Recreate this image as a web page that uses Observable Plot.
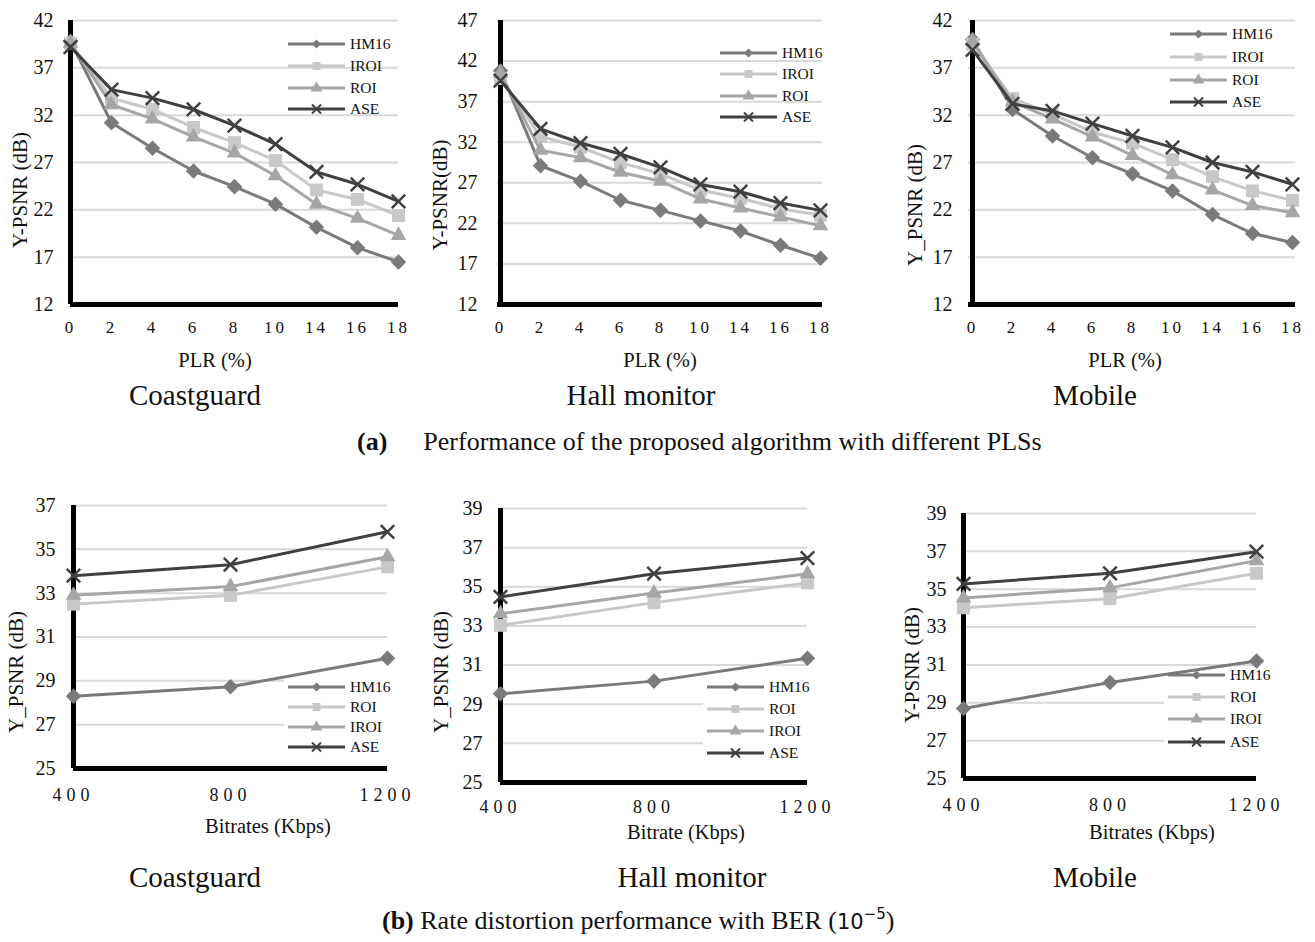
<!DOCTYPE html>
<html><head><meta charset="utf-8">
<script src="https://cdn.jsdelivr.net/npm/d3@7"></script>
<script src="https://cdn.jsdelivr.net/npm/@observablehq/plot@0.6"></script>
<style>
html,body{margin:0;padding:0;background:#fff;}
#fig{position:relative;width:1315px;height:942px;background:#fff;overflow:hidden;font-family:"Liberation Serif","Times New Roman",serif;}
.layer{position:absolute;}
.topx g[aria-label="x-axis tick label"] text{letter-spacing:3px;}
.botx g[aria-label="x-axis tick label"] text{letter-spacing:5px;}
</style>
</head><body><div id="fig"></div>
<script>
// ---------- data ----------
const seqNames = ["Coastguard", "Hall monitor", "Mobile"];
const plrTicks = ["0", "2", "4", "6", "8", "10", "14", "16", "18"];
const bitrateTicks = [400, 800, 1200];
const plrYTicks42 = [12, 17, 22, 27, 32, 37, 42];
const plrYTicks47 = [12, 17, 22, 27, 32, 37, 42, 47];
const rateYTicks37 = [25, 27, 29, 31, 33, 35, 37];
const rateYTicks39 = [25, 27, 29, 31, 33, 35, 37, 39];
const topLegendLabels = ["HM16", "IROI", "ROI", "ASE"];
const botLegendLabels = ["HM16", "ROI", "IROI", "ASE"];

// (a) Y-PSNR vs PLR
const coastPlrHM16 = [39.8, 31.2, 28.5, 26.1, 24.45, 22.6, 20.15, 18.0, 16.5];
const coastPlrIROI = [39.6, 33.8, 32.6, 30.7, 29.1, 27.2, 24.1, 23.1, 21.4];
const coastPlrROI  = [39.6, 33.1, 31.6, 29.7, 28.0, 25.6, 22.6, 21.1, 19.3];
const coastPlrASE  = [39.2, 34.7, 33.8, 32.6, 30.9, 28.95, 26.0, 24.7, 22.9];

const hallPlrHM16 = [40.8, 29.1, 27.2, 24.85, 23.6, 22.3, 21.05, 19.3, 17.7];
const hallPlrIROI = [39.85, 32.7, 31.4, 29.5, 28.1, 26.1, 25.1, 23.8, 23.0];
const hallPlrROI  = [40.5, 31.0, 30.1, 28.3, 27.2, 25.0, 23.9, 22.8, 21.7];
const hallPlrASE  = [39.6, 33.65, 31.9, 30.55, 28.9, 26.8, 25.9, 24.5, 23.6];

const mobPlrHM16 = [40.0, 32.6, 29.8, 27.5, 25.8, 24.0, 21.5, 19.5, 18.55];
const mobPlrIROI = [39.5, 33.75, 32.1, 30.2, 29.05, 27.3, 25.5, 24.0, 23.0];
const mobPlrROI  = [39.8, 33.4, 31.6, 29.7, 27.75, 25.7, 24.1, 22.45, 21.7];
const mobPlrASE  = [38.9, 33.2, 32.45, 31.1, 29.8, 28.6, 27.0, 26.0, 24.7];

// (b) Y-PSNR vs bitrate
const coastRateHM16 = [28.3, 28.73, 30.03];
const coastRateROI  = [32.5, 32.9, 34.2];
const coastRateIROI = [32.9, 33.3, 34.66];
const coastRateASE  = [33.8, 34.3, 35.8];

const hallRateHM16 = [29.53, 30.18, 31.35];
const hallRateROI  = [33.03, 34.19, 35.2];
const hallRateIROI = [33.62, 34.68, 35.67];
const hallRateASE  = [34.48, 35.67, 36.47];

const mobRateHM16 = [28.7, 30.07, 31.21];
const mobRateROI  = [34.02, 34.5, 35.84];
const mobRateIROI = [34.54, 35.07, 36.51];
const mobRateASE  = [35.28, 35.84, 36.98];

// ---------- styles ----------
const FONT = "Liberation Serif";
const seriesStyle = [
  {color: "#7a7a7a", symbol: "diamond2", d3sym: d3.symbolDiamond2, r: 7, lsize: 52, filled: true},
  {color: "#c8c8c8", symbol: "square", d3sym: d3.symbolSquare, r: 7.3, lsize: 64, filled: true},
  {color: "#a6a6a6", symbol: "triangle", d3sym: d3.symbolTriangle, r: 5.8, lsize: 60, filled: true},
  {color: "#404040", symbol: "times", d3sym: d3.symbolTimes, r: 6.2, lsize: 55, filled: false}
];

// ---------- layout ----------
const panels = [
  {left: 0, top: 0, width: 420, height: 345, mL: 70, mR: 22, mT: 20, mB: 41, kind: "plr",
   yDomain: [12, 42], yTicks: plrYTicks42, yPad: 17, xPad: 16,
   series: [coastPlrHM16, coastPlrIROI, coastPlrROI, coastPlrASE],
   legend: {x: 288, ys: [44, 66, 88, 109], labels: topLegendLabels, box: false},
   ylabel: {text: "Y-PSNR (dB)", x: 20, y: 190}, xlabel: {text: "PLR (%)", x: 215, y: 360},
   name: {text: seqNames[0], x: 195, y: 395}},
  {left: 420, top: 0, width: 430, height: 345, mL: 77, mR: 28, mT: 20, mB: 41, kind: "plr",
   yDomain: [12, 47], yTicks: plrYTicks47, yPad: 20, xPad: 16,
   series: [hallPlrHM16, hallPlrIROI, hallPlrROI, hallPlrASE],
   legend: {x: 720, ys: [53, 74, 96, 117], labels: topLegendLabels, box: false},
   ylabel: {text: "Y-PSNR(dB)", x: 440, y: 195}, xlabel: {text: "PLR (%)", x: 660, y: 360},
   name: {text: seqNames[1], x: 641, y: 395}},
  {left: 880, top: 0, width: 435, height: 345, mL: 88, mR: 20, mT: 20, mB: 41, kind: "plr",
   yDomain: [12, 42], yTicks: plrYTicks42, yPad: 16, xPad: 16,
   series: [mobPlrHM16, mobPlrIROI, mobPlrROI, mobPlrASE],
   legend: {x: 1170, ys: [34, 57, 80, 102], labels: topLegendLabels, box: false},
   ylabel: {text: "Y_PSNR (dB)", x: 915, y: 205}, xlabel: {text: "PLR (%)", x: 1125, y: 360},
   name: {text: seqNames[2], x: 1095, y: 395}},
  {left: 0, top: 490, width: 420, height: 330, mL: 73, mR: 33, mT: 15, mB: 52, kind: "rate",
   yDomain: [25, 37], yTicks: rateYTicks37, yPad: 18, xPad: 20,
   series: [coastRateHM16, coastRateROI, coastRateIROI, coastRateASE],
   legend: {x: 288, ys: [687, 707, 727, 747], labels: botLegendLabels, box: true},
   ylabel: {text: "Y_PSNR (dB)", x: 16, y: 672}, xlabel: {text: "Bitrates (Kbps)", x: 268, y: 826},
   name: {text: seqNames[0], x: 195, y: 877}},
  {left: 420, top: 490, width: 440, height: 330, mL: 80, mR: 53, mT: 18, mB: 38, kind: "rate",
   yDomain: [25, 39], yTicks: rateYTicks39, yPad: 18, xPad: 18,
   series: [hallRateHM16, hallRateROI, hallRateIROI, hallRateASE],
   legend: {x: 707, ys: [687, 709, 731, 753], labels: botLegendLabels, box: true},
   ylabel: {text: "Y_PSNR (dB)", x: 441, y: 672}, xlabel: {text: "Bitrate (Kbps)", x: 686, y: 832},
   name: {text: seqNames[1], x: 692, y: 877}},
  {left: 880, top: 490, width: 435, height: 330, mL: 83, mR: 59, mT: 23, mB: 42, kind: "rate",
   yDomain: [25, 39], yTicks: rateYTicks39, yPad: 17, xPad: 20,
   series: [mobRateHM16, mobRateROI, mobRateIROI, mobRateASE],
   legend: {x: 1168, ys: [675, 697, 719, 742], labels: botLegendLabels, box: true},
   ylabel: {text: "Y-PSNR (dB)", x: 912, y: 665}, xlabel: {text: "Bitrates (Kbps)", x: 1152, y: 832},
   name: {text: seqNames[2], x: 1095, y: 877}}
];

const fig = document.getElementById("fig");

function layerDiv(p, cls) {
  const d = document.createElement("div");
  d.className = "layer " + (cls || "");
  d.style.left = p.left + "px";
  d.style.top = p.top + "px";
  d.style.width = p.width + "px";
  d.style.height = p.height + "px";
  return d;
}

function scales(p) {
  const x = p.kind === "plr"
    ? {type: "point", domain: plrTicks, padding: 0}
    : {type: "linear", domain: [bitrateTicks[0], bitrateTicks[bitrateTicks.length - 1]]};
  const y = {type: "linear", domain: p.yDomain};
  return {x, y};
}

function common(p) {
  return {
    width: p.width, height: p.height,
    marginLeft: p.mL, marginRight: p.mR, marginTop: p.mT, marginBottom: p.mB,
    style: {background: "transparent", fontFamily: FONT, overflow: "visible", color: "#000"}
  };
}

const dataLayers = [];
panels.forEach(p => {
  const s = scales(p);
  const xTicks = p.kind === "plr" ? plrTicks : bitrateTicks;
  const base = Plot.plot({
    ...common(p),
    x: s.x, y: s.y,
    marks: [
      Plot.gridY(p.yTicks, {stroke: "#d9d9d9", strokeOpacity: 1, strokeWidth: 2}),
      Plot.axisY(p.yTicks, {tickSize: 0, tickPadding: p.yPad, fontSize: 20, label: null, fill: "#111", tickFormat: d => String(d)}),
      Plot.axisX(xTicks, {tickSize: 0, tickPadding: p.xPad, fontSize: p.kind === "plr" ? 17 : 18, label: null, fill: "#111", tickFormat: d => String(d)}),
      Plot.ruleY([p.yDomain[0]], {stroke: "#000", strokeWidth: 5}),
      Plot.ruleX([xTicks[0]], {stroke: "#000", strokeWidth: 5})
    ]
  });
  const d = layerDiv(p, p.kind === "plr" ? "topx" : "botx");
  d.appendChild(base);
  fig.appendChild(d);

  const xs = p.kind === "plr" ? plrTicks : bitrateTicks;
  const marks = [];
  p.series.forEach((vals, i) => {
    const st = seriesStyle[i];
    const rows = vals.map((v, j) => ({x: xs[j], y: v}));
    marks.push(Plot.line(rows, {x: "x", y: "y", stroke: st.color, strokeWidth: 3}));
    marks.push(Plot.dot(rows, st.filled
      ? {x: "x", y: "y", symbol: st.symbol, r: st.r, fill: st.color, stroke: "none"}
      : {x: "x", y: "y", symbol: st.symbol, r: st.r, fill: "none", stroke: st.color, strokeWidth: 2.5}));
  });
  const top = Plot.plot({
    ...common(p),
    x: {...s.x, axis: null}, y: {...s.y, axis: null},
    marks
  });
  const d2 = layerDiv(p, "");
  d2.appendChild(top);
  dataLayers.push(d2);
});

const ov = d3.select(fig).append("svg")
  .attr("class", "layer")
  .style("left", "0px").style("top", "0px")
  .attr("width", 1315).attr("height", 942)
  .style("font-family", FONT);

panels.forEach(p => {
  const L = p.legend;
  if (L.box) {
    ov.append("rect").attr("x", L.x - 4).attr("y", L.ys[0] - 9)
      .attr("width", 112).attr("height", L.ys[3] - L.ys[0] + 18).attr("fill", "#fff");
  }
  L.labels.forEach((lab, i) => {
    const st = seriesStyle[i];
    const y = L.ys[i];
    ov.append("line").attr("x1", L.x).attr("x2", L.x + 57).attr("y1", y).attr("y2", y)
      .attr("stroke", st.color).attr("stroke-width", 3);
    const sym = ov.append("path").attr("d", d3.symbol(st.d3sym, st.lsize)())
      .attr("transform", `translate(${L.x + 28.5},${y})`);
    if (st.filled) sym.attr("fill", st.color);
    else sym.attr("fill", "none").attr("stroke", st.color).attr("stroke-width", 2);
    ov.append("text").attr("x", L.x + 62).attr("y", y).attr("dy", "0.35em")
      .attr("font-size", 15.5).attr("fill", "#111").text(lab);
  });
  ov.append("text").attr("transform", `translate(${p.ylabel.x},${p.ylabel.y}) rotate(-90)`)
    .attr("text-anchor", "middle").attr("dy", "0.35em").attr("font-size", 21).attr("fill", "#111")
    .text(p.ylabel.text);
  ov.append("text").attr("x", p.xlabel.x).attr("y", p.xlabel.y).attr("text-anchor", "middle")
    .attr("dy", "0.35em").attr("font-size", 20.5).attr("fill", "#111").text(p.xlabel.text);
  ov.append("text").attr("x", p.name.x).attr("y", p.name.y).attr("text-anchor", "middle")
    .attr("dy", "0.35em").attr("font-size", 29).attr("fill", "#111").text(p.name.text);
});

const capA = ov.append("text").attr("x", 357).attr("y", 441).attr("dy", "0.35em")
  .attr("font-size", 26).attr("fill", "#111");
capA.append("tspan").attr("font-weight", "bold").text("(a)");
capA.append("tspan").attr("dx", 36).text("Performance of the proposed algorithm with different PLSs");

const capB = ov.append("text").attr("x", 382).attr("y", 920).attr("dy", "0.35em")
  .attr("font-size", 26).attr("fill", "#111");
capB.append("tspan").attr("font-weight", "bold").text("(b)");
capB.append("tspan").text(" Rate distortion performance with BER (");
capB.append("tspan").attr("font-family", "DejaVu Sans").attr("font-size", 21).text("10");
capB.append("tspan").attr("font-family", "DejaVu Sans").attr("font-size", 15).attr("dy", -10).text("−5");
capB.append("tspan").attr("dy", 10).text(")");

dataLayers.forEach(d => fig.appendChild(d));
</script></body></html>
